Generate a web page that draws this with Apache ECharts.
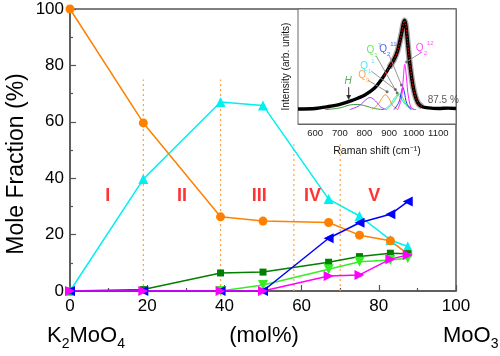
<!DOCTYPE html>
<html>
<head>
<meta charset="utf-8">
<script src="https://cdn.jsdelivr.net/npm/echarts@6/dist/echarts.min.js"></script>
<style>html,body{margin:0;padding:0;background:#fff}#c{width:500px;height:356px}</style>
</head>
<body>
<div id="c"></div>
<script>
// ---- main chart data ----
var compositions = [0, 19, 39, 50, 67, 75, 83, 87.5];
var orangeQ = [100, 59.6, 26.3, 24.8, 24.3, 19.8, 17.8, 13.2];
var cyanQ = [0, 39.7, 67.0, 65.8, 32.6, 26.6, 18.1, 15.8];
var darkGreenQ = [0, 0.5, 6.4, 6.7, 10.2, 12.2, 13.4, 13.2];
var lightGreenQ = [null, null, 0, 2.1, 7.7, 10.4, 11.0, 11.6];
var blueQ = [0, 0, 0, 0, 18.7, 24.2, 27.2, 31.7];
var magentaQ = [0, 0, 0, 0, 5.3, 5.7, 11.3, 12.8];
var xTicks = [0, 20, 40, 60, 80, 100];
var yTicks = [0, 20, 40, 60, 80, 100];
var dividerX = [19, 39, 58, 70];
var dividerTop = [75, 75, 52, 52];
var regionNames = ['I', 'II', 'III', 'IV', 'V'];
var regionX = [9.8, 29, 49, 62.8, 78.8];
var regionY = 33.6;

// ---- inset data (Raman spectrum, 87.5 %) ----
var specX = [530, 600, 650, 700, 750, 800, 840, 870, 900, 920, 935, 945, 952, 958, 963, 968, 975, 983, 992, 1000, 1010, 1020, 1035, 1060, 1100, 1140, 1172];
var specY = [13, 13.5, 15, 17, 20.5, 25, 31, 39, 49, 56, 64, 73, 80, 87, 90, 86, 72, 55, 40, 30, 22, 17.5, 15, 14, 13.5, 13.8, 13.5];
var fitX = [880, 900, 920, 935, 945, 952, 958, 963, 968, 975, 983, 992, 1000, 1010, 1020, 1035];
var fitY = [42, 49, 56, 64, 73, 80, 87, 90, 86, 72, 55, 40, 30, 22, 17.5, 15];
var hX = [640, 700, 740, 770, 800, 840, 880];
var hY = [12.5, 14, 16.5, 17, 16, 13.5, 12.5];
var purX = [740, 780, 800, 823, 845, 865, 890];
var purY = [12.5, 16, 20, 23, 20, 15, 12.5];
var q0X = [830, 855, 870, 885, 900, 915, 935];
var q0Y = [12.5, 17, 22, 25.5, 22, 16, 12.5];
var q11X = [880, 905, 920, 935, 950, 965, 990];
var q11Y = [12.5, 17, 22, 25, 22, 17, 12.5];
var q17X = [890, 915, 930, 942, 955, 970, 1005];
var q17Y = [12.5, 18, 23, 26, 23, 17, 12.5];
var q211X = [920, 940, 950, 956, 962, 972, 990];
var q211Y = [12.5, 19, 28, 32, 28, 18, 12.5];
var q212X = [935, 950, 958, 964, 970, 980, 995, 1010];
var q212Y = [12.5, 22, 40, 52, 42, 22, 13, 12.5];
var insetTicks = [600, 700, 800, 900, 1000, 1100];
var insetMinorTicks = [550, 600, 650, 700, 750, 800, 850, 900, 950, 1000, 1050, 1100, 1150];
// leader lines: [labelX, labelY, peakX, peakY]
var leaders = [[815, 38, 892, 28], [828, 46, 926, 30], [848, 59, 933, 27], [902, 59, 950, 34], [1030, 62, 971, 54]];
var hArrow = [[736, 32], [736, 23]];

function pairs(xs, ys) {
  var out = [];
  for (var i = 0; i < xs.length; i++) if (ys[i] !== null) out.push([xs[i], ys[i]]);
  return out;
}
var haloData = pairs(specX, specY).filter(function (p) { return p[0] >= 900 && p[0] <= 1035; });

var FONT = 'Liberation Sans, Arial, sans-serif';
var AX = '#555';

function mainLine(name, ys, color, symbol, size, rotate) {
  return {
    type: 'line', name: name, xAxisIndex: 0, yAxisIndex: 0,
    data: pairs(compositions, ys),
    symbol: symbol, symbolSize: size, symbolRotate: rotate || 0,
    lineStyle: { color: color, width: 1.5 },
    itemStyle: { color: color },
    z: 3
  };
}

function insetLine(xs, ys, color, width) {
  return {
    type: 'line', xAxisIndex: 1, yAxisIndex: 1, data: pairs(xs, ys),
    smooth: 0.4, symbol: 'none', lineStyle: { color: color, width: width || 1 }, z: 12,
    silent: true
  };
}

var dividerSeries = dividerX.map(function (x, i) {
  return {
    type: 'line', xAxisIndex: 0, yAxisIndex: 0, data: [[x, 0], [x, dividerTop[i]]],
    symbol: 'none', lineStyle: { color: '#ffa040', width: 1.2, type: [2, 3] }, z: 2
  };
});

var leaderSeries = leaders.map(function (l) {
  return {
    type: 'line', xAxisIndex: 1, yAxisIndex: 1, data: [[l[0], l[1]], [l[2], l[3]]],
    symbol: ['none', 'none'], showSymbol: false, lineStyle: { color: '#8a8a8a', width: 0.9 }, z: 14, silent: true
  };
});

var labelRich = {
  q: { fontFamily: FONT, fontSize: 10, lineHeight: 16, verticalAlign: 'middle' },
  sb: { fontFamily: FONT, fontSize: 6, lineHeight: 16, verticalAlign: 'bottom', padding: [6, 0, 0, 0] },
  sp: { fontFamily: FONT, fontSize: 6, lineHeight: 16, verticalAlign: 'top', padding: [0, 0, 6, 0] }
};

function insetLabel(x, y, text, color, italic) {
  return {
    type: 'scatter', xAxisIndex: 1, yAxisIndex: 1, data: [[x, y]], symbolSize: 0, z: 15, silent: true,
    label: { show: true, position: 'inside', formatter: text, color: color, fontFamily: FONT, fontSize: 10,
      fontStyle: italic ? 'italic' : 'normal', rich: labelRich }
  };
}

var option = {
  animation: false,
  backgroundColor: '#fff',
  grid: [
    { left: 70, right: 44, top: 9, bottom: 65, show: true, borderColor: AX, borderWidth: 1.5, z: 0 },
    { left: 298, top: 9, width: 158, height: 115, show: true, backgroundColor: '#fff', borderColor: '#666', borderWidth: 1, z: 10 }
  ],
  xAxis: [
    { type: 'value', gridIndex: 0, min: 0, max: 100, interval: 20,
      axisLine: { show: true, lineStyle: { color: AX, width: 1.5 } },
      axisTick: { show: true, inside: true, length: 6, lineStyle: { color: AX, width: 1.2 } },
      minorTick: { show: true, splitNumber: 2, length: 3, lineStyle: { color: AX, width: 1.2 } },
      axisLabel: { color: '#000', fontSize: 17, fontFamily: FONT, margin: 7 },
      splitLine: { show: false } },
    { type: 'value', gridIndex: 1, min: 530, max: 1172,
      axisLine: { show: true, onZero: false, lineStyle: { color: '#666', width: 1 } },
      axisTick: { show: true, inside: true, length: 3, customValues: insetMinorTicks, lineStyle: { color: '#666' } },
      axisLabel: { color: '#222', fontSize: 9.5, fontFamily: FONT, margin: 4, customValues: insetTicks,
        formatter: function (v) { return String(v); } },
      splitLine: { show: false },
      name: 'Raman shift (cm\u207B\u00B9)', nameLocation: 'middle', nameGap: 22,
      nameTextStyle: { color: '#111', fontSize: 10.5, fontFamily: FONT } }
  ],
  yAxis: [
    { type: 'value', gridIndex: 0, min: 0, max: 100, interval: 20,
      axisLine: { show: true, lineStyle: { color: AX, width: 1.5 } },
      axisTick: { show: true, inside: true, length: 6, lineStyle: { color: AX, width: 1.2 } },
      minorTick: { show: true, splitNumber: 2, length: 3, lineStyle: { color: AX, width: 1.2 } },
      axisLabel: { color: '#000', fontSize: 17, fontFamily: FONT, margin: 6 },
      splitLine: { show: false } },
    { type: 'value', gridIndex: 1, min: 0, max: 100,
      axisLine: { show: true, lineStyle: { color: '#666', width: 1 } },
      axisTick: { show: false }, axisLabel: { show: false }, splitLine: { show: false },
      name: 'Intensity (arb. units)', nameLocation: 'middle', nameGap: 7,
      nameTextStyle: { color: '#111', fontSize: 10, fontFamily: FONT } }
  ],
  series: [].concat(dividerSeries, [
    mainLine('cyan', cyanQ, '#00f0f0', 'triangle', 10),
    mainLine('orange', orangeQ, '#ff8000', 'circle', 9),
    mainLine('darkgreen', darkGreenQ, '#007f00', 'rect', 7),
    mainLine('lightgreen', lightGreenQ, '#33ee22', 'triangle', 10, 180),
    mainLine('blue', blueQ, '#0000ff', 'triangle', 10, 90),
    mainLine('magenta', magentaQ, '#ff00ff', 'triangle', 10, -90),
    {
      type: 'scatter', xAxisIndex: 0, yAxisIndex: 0, symbolSize: 0, silent: true, z: 4,
      data: regionX.map(function (x, i) { return { value: [x, regionY], name: regionNames[i] }; }),
      label: { show: true, position: 'inside', formatter: '{b}', color: '#ff0000', fontSize: 18, fontWeight: 'bold', fontFamily: FONT }
    },
    // inset curves
    insetLine(hX, hY, '#3a9a3a', 1),
    insetLine(purX, purY, '#a040ff', 1),
    insetLine(q0X, q0Y, '#ff8c1a', 1),
    insetLine(q11X, q11Y, '#22e6ee', 1),
    insetLine(q17X, q17Y, '#33ee33', 1),
    insetLine(q211X, q211Y, '#2233ff', 1),
    insetLine(q212X, q212Y, '#ff22ff', 1),
    { type: 'line', xAxisIndex: 1, yAxisIndex: 1, data: haloData, smooth: 0.3, symbol: 'none',
      lineStyle: { color: '#a8a8a8', width: 6 }, z: 11, silent: true },
    { type: 'line', xAxisIndex: 1, yAxisIndex: 1, data: pairs(specX, specY), smooth: 0.3, symbol: 'none',
      lineStyle: { color: '#000', width: 3.4 }, z: 13, silent: true },
    { type: 'line', xAxisIndex: 1, yAxisIndex: 1, data: pairs(fitX, fitY), smooth: 0.3, symbol: 'none',
      lineStyle: { color: '#e00000', width: 1.3, type: [1.5, 1.5] }, z: 14, silent: true },
    { type: 'line', xAxisIndex: 1, yAxisIndex: 1, data: hArrow, symbol: 'none',
      lineStyle: { color: '#111', width: 0.9 }, z: 14, silent: true },
    { type: 'scatter', xAxisIndex: 1, yAxisIndex: 1, data: [hArrow[1]], symbol: 'triangle', symbolRotate: 180,
      symbolSize: 5, itemStyle: { color: '#111' }, z: 14, silent: true }
  ], leaderSeries, [
    { type: 'scatter', xAxisIndex: 1, yAxisIndex: 1, data: leaders.map(function (l) { return [l[2], l[3]]; }),
      symbolSize: 3, itemStyle: { color: '#555' }, z: 14, silent: true },
    insetLabel(734, 37, 'H', '#339933', true),
    insetLabel(797, 42, '{q|Q}{sb|0}', '#ff8c1a'),
    insetLabel(812, 50, '{q|Q}{sb|1}{sp|1}', '#22e6ee'),
    insetLabel(838, 64, '{q|Q}{sb|1}{sp|7}', '#33ee33'),
    insetLabel(895, 65, '{q|Q}{sb|2}{sp|11}', '#2233ff'),
    insetLabel(1045, 66, '{q|Q}{sb|2}{sp|12}', '#ff22ff'),
    insetLabel(1120, 21, '87.5 %', '#333')
  ]),
  graphic: [
    { type: 'text', rotation: Math.PI / 2, x: 17, y: 164,
      style: { text: 'Mole Fraction (%)', fill: '#000', font: '23px ' + FONT, textAlign: 'center', textVerticalAlign: 'middle' } },
    { type: 'text', x: 47, y: 336,
      style: { text: '{n|K}{s|2}{n|MoO}{s|4}', fill: '#000', textVerticalAlign: 'middle',
        rich: { n: { font: '22px ' + FONT, fill: '#000', lineHeight: 30, verticalAlign: 'middle' },
                s: { font: '14px ' + FONT, fill: '#000', lineHeight: 30, verticalAlign: 'bottom', padding: [12, 0, 0, 0] } } } },
    { type: 'text', x: 264, y: 336,
      style: { text: '(mol%)', fill: '#000', font: '22px ' + FONT, textAlign: 'center', textVerticalAlign: 'middle' } },
    { type: 'text', x: 443, y: 336,
      style: { text: '{n|MoO}{s|3}', fill: '#000', textVerticalAlign: 'middle',
        rich: { n: { font: '22px ' + FONT, fill: '#000', lineHeight: 30, verticalAlign: 'middle' },
                s: { font: '14px ' + FONT, fill: '#000', lineHeight: 30, verticalAlign: 'bottom', padding: [12, 0, 0, 0] } } } }
  ]
};

var chart = echarts.init(document.getElementById('c'), null, { renderer: 'canvas' });
chart.setOption(option);
</script>
</body>
</html>
